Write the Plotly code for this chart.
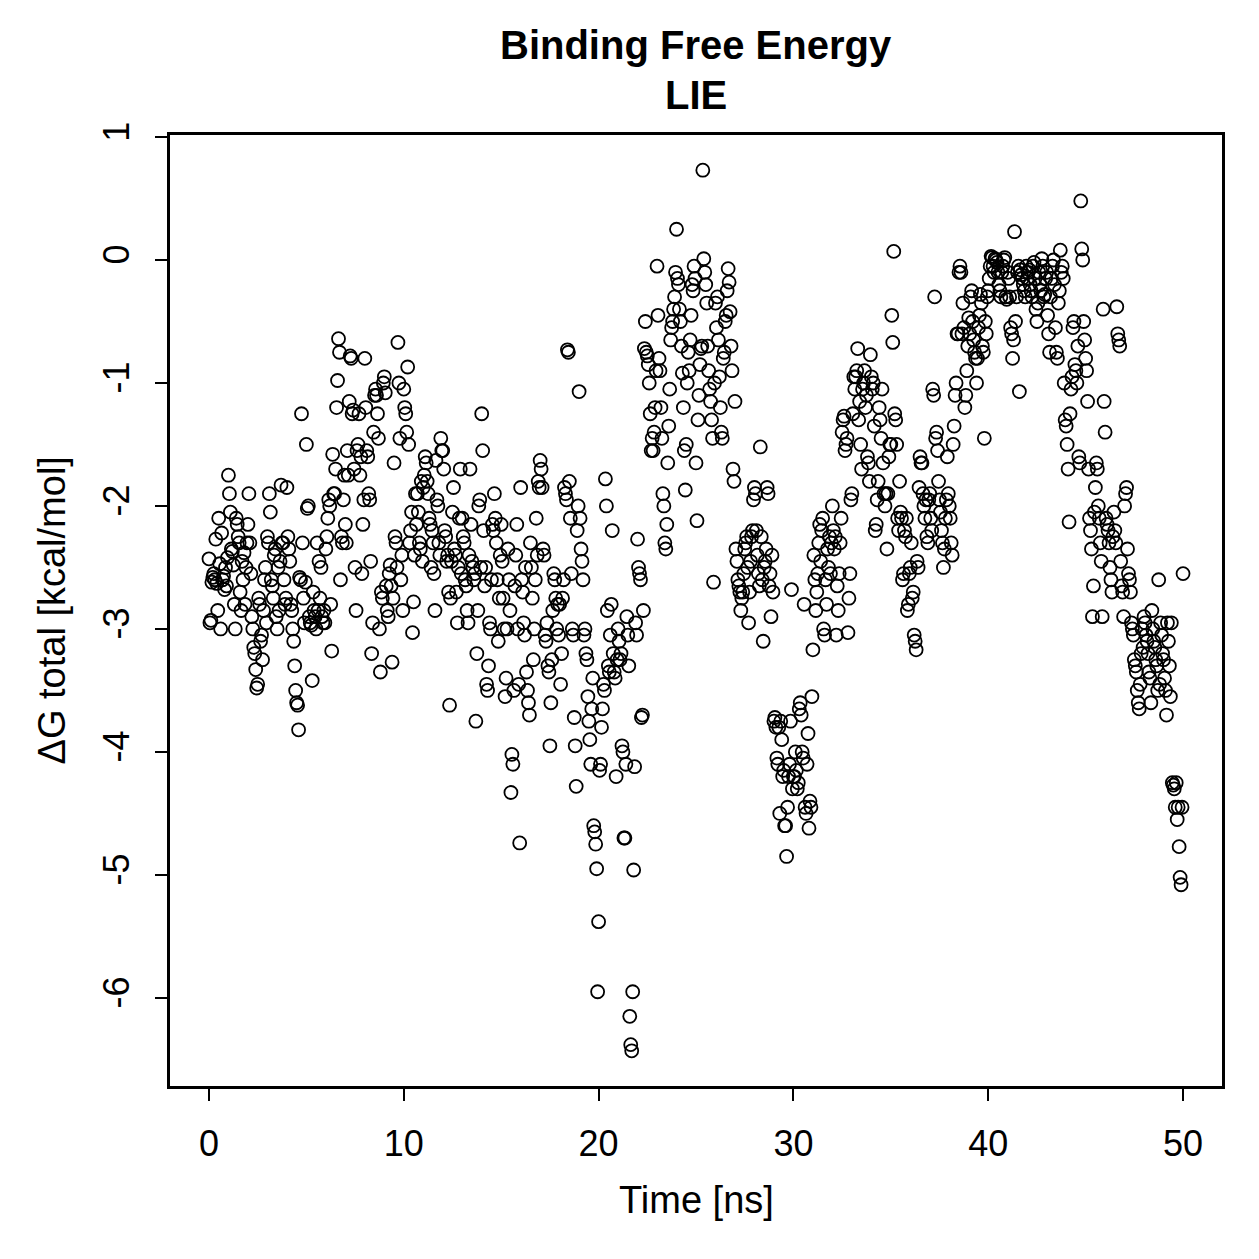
import numpy as np
import plotly.graph_objects as go

# Binding free energy (LIE), kcal/mol, sampled every 0.05 ns from 0 to 50 ns
dg_00_10 = [
    -2.43, -2.95, -2.93, -2.62, -2.58, -2.55, -2.60, -2.27, -2.63, -2.85, -2.10, -2.47, -3.00, -2.22, -2.60, -2.57, -2.68, -2.50, -2.65, -2.42,
    -1.75, -1.90, -2.05, -2.35, -2.37, -2.48, -2.80, -3.00, -2.10, -2.15, -2.25, -2.30, -2.70, -2.85, -2.45, -2.60, -2.38, -2.80, -2.50, -2.30,
    -2.15, -1.90, -2.30, -2.55, -2.90, -3.00, -3.15, -3.20, -3.33, -3.48, -3.45, -2.75, -2.80, -3.10, -3.05, -3.25, -2.85, -2.60, -2.50, -2.95,
    -2.25, -2.30, -1.90, -2.05, -2.60, -2.65, -2.75, -2.40, -2.35, -2.90, -3.00, -2.50, -2.85, -2.45, -1.83, -2.30, -2.30, -2.60, -2.80, -2.75,
    -1.85, -2.25, -2.35, -2.45, -2.80, -2.85, -3.00, -3.10, -3.30, -3.50, -3.60, -3.62, -3.82, -2.58, -2.60, -1.25, -2.30, -2.75, -2.95, -2.62,
    -1.50, -2.02, -2.00, -2.90, -2.95, -2.97, -3.42, -2.70, -2.85, -2.90, -3.00, -2.30, -2.85, -2.45, -2.75, -2.50, -2.90, -2.95, -2.85, -2.95,
    -2.35, -2.25, -2.10, -1.95, -2.00, -2.80, -3.18, -1.58, -1.90, -1.90, -1.70, -1.20, -0.98, -0.64, -0.75, -2.60, -2.25, -2.30, -1.95, -1.75,
    -2.15, -2.30, -1.55, -1.75, -1.15, -0.78, -0.80, -1.25, -1.22, -1.70, -2.50, -2.85, -1.55, -1.50, -1.25, -1.75, -1.60, -2.55, -2.15, -1.95,
    -0.80, -1.20, -1.55, -1.60, -1.90, -1.95, -2.45, -3.20, -2.95, -1.40, -1.10, -1.05, -1.10, -1.25, -1.45, -3.00, -3.35, -2.70, -2.75, -1.00,
    -0.95, -1.08, -2.65, -2.85, -2.90, -2.55, -2.48, -2.65, -3.27, -2.75, -1.65, -2.25, -2.30, -2.50, -0.67, -1.00, -1.45, -2.60, -2.40, -2.85,
]
dg_10_20 = [
    -1.05, -1.20, -1.25, -1.40, -0.87, -1.50, -2.30, -2.20, -2.05, -3.03, -2.78, -2.40, -1.90, -2.15, -1.90, -2.05, -2.30, -2.35, -1.80, -2.45,
    -1.85, -1.75, -1.60, -1.65, -1.80, -1.90, -2.10, -2.15, -2.50, -2.20, -2.30, -2.55, -2.85, -1.63, -1.95, -2.00, -2.30, -2.40, -1.45, -1.55,
    -1.55, -1.70, -2.20, -2.25, -2.45, -2.40, -2.70, -3.62, -2.75, -2.45, -2.05, -1.85, -2.35, -2.40, -2.70, -2.95, -2.50, -2.10, -1.70, -2.55,
    -2.10, -2.25, -2.30, -2.60, -2.65, -2.85, -2.95, -2.40, -1.70, -2.15, -2.45, -2.50, -2.60, -2.55, -3.75, -3.20, -2.85, -2.00, -1.95, -2.50,
    -1.25, -1.55, -2.20, -2.65, -2.50, -3.45, -3.50, -3.30, -2.95, -3.00, -2.60, -2.15, -2.20, -1.90, -2.10, -2.30, -2.60, -3.10, -2.75, -2.40,
    -2.15, -2.45, -2.75, -3.00, -3.55, -3.40, -3.00, -2.35, -2.60, -2.85, -4.33, -4.02, -4.10, -3.50, -2.65, -2.40, -2.15, -3.00, -3.45, -4.74,
    -1.85, -2.60, -2.70, -2.95, -3.05, -2.50, -3.35, -3.50, -3.60, -3.70, -2.30, -2.50, -2.75, -3.25, -3.00, -2.60, -2.10, -2.40, -1.80, -1.85,
    -1.63, -1.70, -1.85, -2.35, -2.40, -3.05, -3.10, -2.95, -3.30, -3.35, -3.95, -3.60, -3.25, -2.85, -2.55, -2.60, -2.75, -3.00, -2.80, -3.05,
    -2.80, -3.45, -3.20, -2.75, -2.60, -1.85, -1.90, -1.95, -0.73, -0.75, -1.80, -2.10, -2.55, -3.00, -3.05, -3.72, -3.95, -4.28, -2.20, -2.00,
    -1.07, -2.10, -2.35, -2.45, -2.60, -3.05, -3.00, -3.20, -3.25, -3.55, -3.75, -3.90, -4.10, -3.65, -3.40, -4.60, -4.65, -4.75, -4.95, -5.95,
]
dg_20_30 = [
    -5.38, -4.15, -4.10, -3.80, -3.65, -3.45, -3.50, -1.78, -2.00, -2.85, -3.30, -3.35, -3.05, -2.80, -2.20, -3.20, -3.35, -3.40, -4.20, -3.25,
    -3.00, -3.10, -3.25, -3.20, -3.95, -4.00, -4.70, -4.70, -4.10, -2.90, -3.05, -3.30, -6.15, -6.38, -6.43, -5.95, -4.96, -4.12, -2.95, -3.05,
    -2.27, -2.50, -2.55, -2.60, -3.72, -3.70, -2.85, -0.72, -0.50, -0.75, -0.78, -0.85, -1.00, -1.25, -1.55, -1.45, -1.55, -1.40, -1.20, -0.90,
    -0.05, -0.45, -0.80, -0.90, -1.20, -1.45, -1.90, -2.00, -2.30, -2.35, -2.15, -1.65, -1.35, -1.05, -0.65, -0.55, -0.50, -0.40, -0.30, -0.10,
    0.25, -0.15, -0.20, -0.40, -0.50, -0.70, -0.92, -1.20, -1.55, -1.87, -1.50, -1.00, -0.75, -0.90, -0.65, -0.45, -0.20, -0.25, -0.05, -0.15,
    -1.65, -2.12, -1.30, -1.10, -0.85, -0.72, -0.70, 0.73, 0.01, -0.10, -0.20, -0.35, -0.70, -0.90, -1.05, -1.15, -1.30, -1.45, -2.62, -1.00,
    -0.35, -0.55, -0.30, -0.65, -0.95, -1.20, -1.40, -1.45, -0.80, -0.75, -0.50, -0.45, -0.25, -0.07, -0.18, -0.42, -0.70, -0.90, -1.70, -1.80,
    -1.15, -2.35, -2.45, -2.60, -2.65, -2.70, -2.85, -2.75, -2.70, -2.55, -2.35, -2.30, -2.25, -2.50, -2.95, -2.70, -2.45, -2.25, -2.20, -1.95,
    -1.85, -1.90, -2.20, -2.40, -2.55, -2.65, -1.52, -2.25, -2.60, -3.10, -2.50, -2.45, -2.35, -1.85, -1.90, -2.65, -2.55, -2.90, -2.40, -2.70,
    -3.75, -3.72, -3.80, -4.05, -4.10, -3.80, -4.50, -3.75, -3.90, -4.20, -4.15, -4.60, -4.60, -4.85, -4.45, -4.20, -4.10, -3.75, -2.68, -4.30,
]
dg_30_40 = [
    -4.20, -4.20, -4.00, -4.15, -4.30, -4.25, -3.65, -3.60, -3.70, -4.00, -4.05, -2.80, -4.45, -4.50, -4.10, -3.85, -4.62, -4.40, -4.45, -3.55,
    -3.17, -2.40, -2.60, -2.85, -2.70, -2.55, -2.30, -2.15, -2.45, -2.20, -2.10, -3.00, -3.05, -2.60, -2.80, -2.35, -2.50, -2.25, -2.55, -2.30,
    -2.00, -2.20, -2.35, -2.25, -3.05, -2.65, -2.85, -2.55, -2.30, -2.10, -1.40, -1.30, -1.27, -1.55, -1.50, -1.45, -3.03, -2.75, -2.55, -1.95,
    -1.90, -1.25, -0.95, -1.05, -0.95, -0.90, -0.72, -1.30, -1.15, -1.50, -1.70, -1.05, -1.00, -0.90, -1.20, -1.10, -1.60, -1.65, -1.80, -0.77,
    -0.95, -1.05, -1.00, -1.35, -2.20, -2.15, -1.95, -1.80, -1.20, -1.30, -1.45, -1.05, -1.65, -1.90, -2.00, -1.90, -2.35, -1.90, -1.60, -1.50,
    -1.50, -0.45, -0.67, 0.07, -1.25, -1.30, -1.50, -2.10, -2.20, -1.80, -2.05, -2.10, -2.60, -2.55, -2.20, -2.25, -2.10, -2.85, -2.80, -2.55,
    -2.50, -2.30, -2.75, -2.70, -3.05, -3.10, -3.17, -2.45, -2.50, -1.85, -1.60, -1.65, -1.65, -1.90, -2.00, -2.10, -1.95, -2.25, -2.30, -1.95,
    -1.90, -2.10, -2.20, -1.05, -1.10, -0.30, -1.45, -1.40, -1.55, -1.80, -1.95, -2.05, -2.20, -2.30, -2.50, -2.35, -2.10, -1.95, -1.60, -1.90,
    -2.00, -2.10, -2.30, -2.40, -1.50, -1.35, -1.10, -1.00, -0.60, -0.60, -0.10, -0.05, -0.10, -0.60, -0.35, -0.55, -1.20, -1.10, -0.90, -0.70,
    -0.47, -0.60, -0.30, -0.25, -0.50, -0.65, -0.75, -0.80, -1.00, -0.80, -0.55, -0.45, -0.28, -0.35, -0.70, -0.75, -1.45, -0.50, -0.60, -0.30,
]
dg_40_50 = [
    -0.25, -0.15, -0.05, 0.03, 0.02, -0.05, -0.10, 0.01, 0.00, -0.02, -0.10, -0.20, -0.25, -0.30, -0.10, -0.05, 0.00, 0.02, -0.30, -0.32,
    -0.10, -0.15, -0.30, -0.55, -0.60, -0.80, -0.65, 0.23, -0.50, -0.30, -0.10, -0.05, -1.07, -0.08, -0.12, -0.15, -0.20, -0.25, -0.30, -0.05,
    -0.15, -0.10, -0.08, -0.20, -0.25, -0.30, -0.05, -0.02, -0.15, -0.40, -0.50, -0.35, -0.10, -0.20, -0.25, 0.01, -0.05, -0.30, -0.28, -0.15,
    -0.10, -0.45, -0.60, -0.75, -0.30, -0.15, -0.05, 0.00, -0.20, -0.55, -0.75, -0.80, -0.35, -0.25, 0.08, -0.10, -0.05, -0.15, -1.00, -1.30,
    -1.35, -1.50, -1.70, -2.13, -1.25, -1.05, -0.95, -0.55, -0.50, -0.85, -0.90, -1.00, -0.70, -1.60, -1.65, 0.48, 0.09, 0.00, -0.50, -0.65,
    -0.80, -0.90, -1.15, -1.70, -2.10, -2.20, -2.35, -2.90, -2.65, -2.05, -1.85, -1.65, -1.70, -2.00, -2.10, -2.30, -2.45, -2.90, -0.40, -1.15,
    -1.40, -2.10, -2.15, -2.20, -2.30, -2.50, -2.60, -2.70, -2.25, -2.05, -2.20, -2.30, -0.38, -0.60, -0.65, -0.70, -2.45, -2.65, -2.70, -2.90,
    -2.00, -1.90, -1.85, -2.35, -2.55, -2.60, -2.70, -2.95, -3.00, -3.05, -3.25, -3.30, -3.35, -3.50, -3.60, -3.65, -3.45, -3.20, -3.00, -3.15,
    -2.90, -2.95, -3.05, -3.10, -3.20, -3.35, -3.40, -3.60, -2.85, -3.00, -3.10, -3.15, -3.25, -3.30, -3.50, -2.60, -3.45, -2.95, -3.05, -3.20,
    -3.25, -3.40, -3.50, -3.70, -2.95, -3.10, -3.30, -3.55, -2.95, -4.25, -4.27, -4.30, -4.45, -4.25, -4.55, -4.45, -4.77, -5.02, -5.08, -4.45,
]
dg_final = [-2.55]

x_ticks = [0, 10, 20, 30, 40, 50]
x_tick_labels = ["0", "10", "20", "30", "40", "50"]
y_ticks = [-6, -5, -4, -3, -2, -1, 0, 1]
y_tick_labels = ["-6", "-5", "-4", "-3", "-2", "-1", "0", "1"]

dg = np.array(dg_00_10 + dg_10_20 + dg_20_30 + dg_30_40 + dg_40_50 + dg_final)
time_ns = np.linspace(0, 50, len(dg))

FONT = "Liberation Sans, Arial, Helvetica, sans-serif"

fig = go.Figure()
fig.add_trace(go.Scatter(
    x=time_ns, y=dg, mode="markers",
    marker=dict(symbol="circle-open", size=13, color="black",
                line=dict(color="black", width=1.8)),
    showlegend=False, hoverinfo="x+y",
))

# R-style axis ranges (4% extension)
xr = [-2, 52]
ymin, ymax = dg.min(), dg.max()
ext = 0.04 * (ymax - ymin)
yr = [ymin - ext, ymax + ext]

axis_common = dict(
    showgrid=False, zeroline=False, showline=True, mirror=True,
    linecolor="black", linewidth=2.5, ticks="outside", ticklen=12,
    tickwidth=2, tickcolor="black",
    tickfont=dict(family=FONT, size=36, color="black"),
)

fig.update_layout(
    width=1259, height=1259,
    margin=dict(l=170, r=37, t=135, b=173, pad=0),
    paper_bgcolor="white", plot_bgcolor="white",
    xaxis=dict(range=xr, tickvals=x_ticks, ticktext=x_tick_labels,
               ticklabelstandoff=12, **axis_common),
    yaxis=dict(range=yr, tickvals=y_ticks, ticktext=y_tick_labels, tickangle=-90,
               ticklabelstandoff=12, **axis_common),
    font=dict(family=FONT, color="black"),
    annotations=[
        dict(text="<b>Binding Free Energy</b>", x=0.5, y=1.0946, xref="paper", yref="paper",
             xanchor="center", yanchor="middle", showarrow=False,
             font=dict(family=FONT, size=40, color="black")),
        dict(text="<b>LIE</b>", x=0.5, y=1.042, xref="paper", yref="paper",
             xanchor="center", yanchor="middle", showarrow=False,
             font=dict(family=FONT, size=40, color="black")),
        dict(text="Time [ns]", x=0.5, y=-0.1199, xref="paper", yref="paper",
             xanchor="center", yanchor="middle", showarrow=False,
             font=dict(family=FONT, size=38, color="black")),
        dict(text="ΔG total [kcal/mol]", x=-0.1122, y=0.5, xref="paper", yref="paper",
             xanchor="center", yanchor="middle", showarrow=False, textangle=-90,
             font=dict(family=FONT, size=38, color="black")),
    ],
)

fig.write_html("out.html")
